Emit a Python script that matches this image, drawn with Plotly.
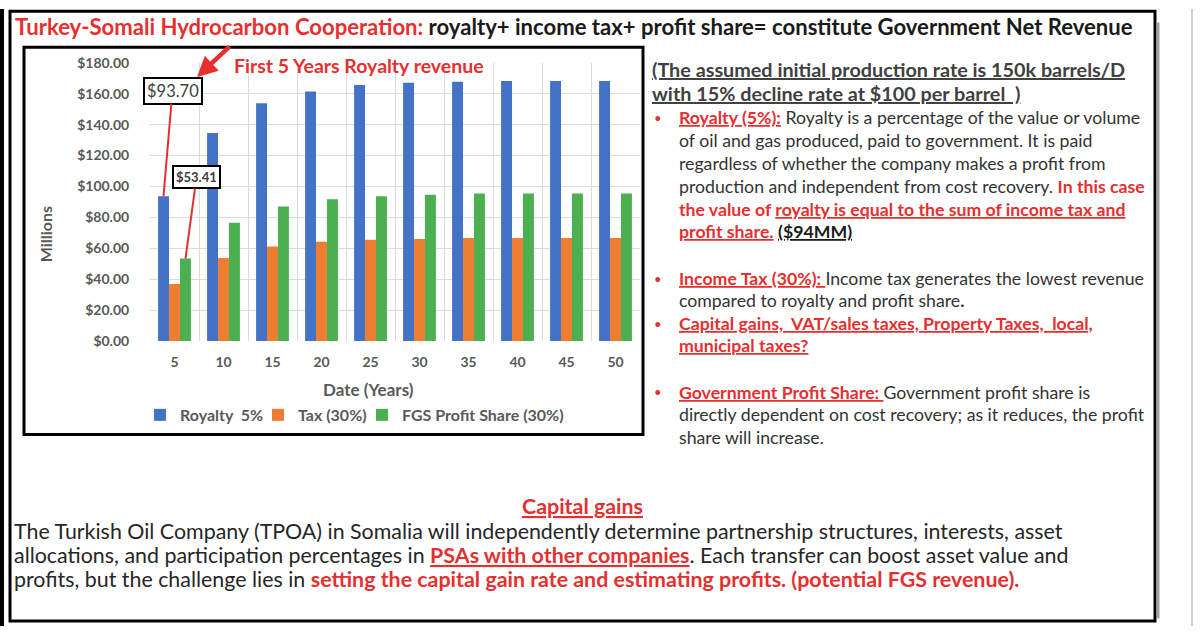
import plotly.graph_objects as go

# ---------------- data ----------------
years = [5, 10, 15, 20, 25, 30, 35, 40, 45, 50]
royalty = [93.70, 134.6, 153.8, 161.5, 165.6, 167.1, 167.7, 168.2, 168.2, 168.2]
tax = [36.9, 53.7, 61.2, 64.2, 65.5, 66.1, 66.6, 66.6, 66.6, 66.6]
profit_share = [53.41, 76.6, 87.0, 91.7, 93.7, 94.7, 95.4, 95.4, 95.4, 95.4]
series_names = ["Royalty  5%", "Tax (30%)", "FGS Profit Share (30%)"]
y_ticks = [0, 20, 40, 60, 80, 100, 120, 140, 160, 180]

W, H = 1200, 634
FONT = "Lato"
RED = "#e5302f"
GRAY = "#595959"
DARK = "#333333"
BLUE, ORANGE, GREEN = "#4472c4", "#ed7d31", "#4caf50"
VS = 0.975  # vertical calibration of the capture


def Y(y):
    return (y - 7.8) / VS


def px(x, y):
    return x / W, 1 - Y(y) / H


fig = go.Figure()
for name, vals, col, lg in zip(series_names, [royalty, tax, profit_share],
                               [BLUE, ORANGE, GREEN], ["legend", "legend2", "legend3"]):
    fig.add_trace(go.Bar(x=years, y=vals, name=name, marker_color=col,
                         marker_line_width=0, legend=lg, showlegend=True))

annotations = []


def txt(x, y, s, size, color=DARK, anchor="left", weight="normal"):
    ax_, ay_ = px(x, y)
    annotations.append(dict(x=ax_, y=ay_, xref="paper", yref="paper", text=s,
                            showarrow=False, xanchor=anchor, yanchor="middle",
                            font=dict(family=FONT, size=size, color=color, weight=weight)))


def red(s, u=True):
    inner = f"<b>{s}</b>"
    if u:
        inner = f"<u>{inner}</u>"
    return f'<span style="color:{RED}">{inner}</span>'


# title
txt(13, 25, red("Turkey-Somali Hydrocarbon Cooperation:", u=False)
    + "<b> royalty+ income tax+ profit share= constitute Government Net Revenue</b>",
    22.1, color="#1a1a1a")

# chart texts
txt(232, 64, "<b>First 5 Years Royalty revenue</b>", 19.5, color=RED)
mx, my = px(45, 233.5)
annotations.append(dict(x=mx, y=my, xref="paper", yref="paper", xanchor="center",
                        yanchor="middle", text="<b>Millions</b>", textangle=-90,
                        showarrow=False, font=dict(family=FONT, size=16, color=GRAY)))
txt(368, 389, "<b>Date (Years)</b>", 17, color=GRAY, anchor="center")

# value callouts linked to bars
annotations.append(dict(x=years[0], y=royalty[0], xref="x", yref="y", xshift=-11,
                        text="$93.70", showarrow=True, arrowhead=0, arrowwidth=2,
                        arrowcolor=RED, ax=9, ay=-103 / VS, bgcolor="white",
                        bordercolor="black", borderwidth=2, borderpad=2,
                        font=dict(family=FONT, size=16.5, color="#404040")))
annotations.append(dict(x=years[0], y=profit_share[0], xref="x", yref="y", xshift=11,
                        text="<b>$53.41</b>", showarrow=True, arrowhead=0, arrowwidth=2,
                        arrowcolor=RED, ax=11, ay=-79 / VS, bgcolor="white",
                        bordercolor="black", borderwidth=2, borderpad=2,
                        font=dict(family=FONT, size=13, color="#404040")))
# big red pointer arrow
tx, ty = px(197, 76)
annotations.append(dict(x=tx, y=ty, xref="paper", yref="paper", text="",
                        showarrow=True, arrowhead=2, arrowsize=0.9, arrowwidth=4.5,
                        arrowcolor=RED, ax=34, ay=-31 / VS))

# right-hand text
HS = 19.8
BS_ = 17.7
txt(650, 68, "<u><b>(The assumed initial production rate is 150k barrels/D</b></u>", HS, color="#404040")
txt(650, 92, "<u><b>with 15% decline rate at $100 per barrel\u00a0 )</b></u>", HS, color="#404040")
bul = f'<span style="color:{RED}">•</span>'
for yb in [117, 278, 323, 392]:
    txt(652, yb, bul, 13)
XT = 677
txt(XT, 117, red("Royalty (5%):") + " Royalty is a percentage of the value or volume", BS_)
txt(XT, 140, "of oil and gas produced, paid to government. It is paid", BS_)
txt(XT, 163, "regardless of whether the company makes a profit from", BS_)
txt(XT, 186, "production and independent from cost recovery. " + red("In this case", u=False), BS_)
txt(XT, 209, red("the value of ", u=False) + red("royalty is equal to the sum of income tax and"), BS_)
txt(XT, 231, red("profit share.") + " <u><b>($94MM)</b></u>", BS_, color="#1a1a1a")
txt(XT, 278, red("Income Tax (30%): ") + "Income tax generates the lowest revenue", BS_)
txt(XT, 300, "compared to royalty and profit share<b>.</b>", BS_)
txt(XT, 323, red("Capital gains,\u00a0 VAT/sales taxes, Property Taxes,\u00a0 local,"), BS_)
txt(XT, 345, red("municipal taxes?"), BS_)
txt(XT, 392, red("Government Profit Share: ") + "Government profit share is", BS_)
txt(XT, 414, "directly dependent on cost recovery; as it reduces, the profit", BS_)
txt(XT, 437, "share will increase.", BS_)

# bottom text
BS = 21.4
txt(582, 506, red("Capital gains"), BS, anchor="center")
txt(12, 531, "The Turkish Oil Company (TPOA) in Somalia will independently determine partnership structures, interests, asset", BS, color="#262626")
txt(12, 555, "allocations, and participation percentages in " + red("PSAs with other companies")
    + ". Each transfer can boost asset value and", BS, color="#262626")
txt(12, 579, "profits, but the challenge lies in "
    + red("setting the capital gain rate and estimating profits. (potential FGS revenue).", u=False),
    BS, color="#262626")

# frames
shapes = []


def rect(x0, y0, x1, y1, w=3, color="black"):
    a0, b0 = px(x0, y0)
    a1, b1 = px(x1, y1)
    shapes.append(dict(type="rect", xref="paper", yref="paper", x0=a0, y0=b1, x1=a1, y1=b0,
                       line=dict(color=color, width=w), fillcolor="rgba(0,0,0,0)"))


def vline(x, y0, y1, w=2, color="black"):
    a = x / W
    shapes.append(dict(type="line", xref="paper", yref="paper", x0=a, x1=a,
                       y0=1 - y0 / H, y1=1 - y1 / H, line=dict(color=color, width=w)))


rect(10, 10, 1155, 621, w=3)
vline(2, 0, 634, w=4)
vline(1158, 14, 626, w=3, color="#a0a0a0")
vline(1192, 0, 634, w=2, color="#cfcfcf")
rect(24, 46, 643, 434, w=3)

legend_common = dict(orientation="h", yanchor="middle", bgcolor="rgba(0,0,0,0)",
                     font=dict(family=FONT, size=16, color=GRAY, weight="bold"),
                     itemwidth=30, tracegroupgap=0)
ly = 1 - Y(414.5) / H

fig.update_layout(
    width=W, height=H, margin=dict(l=0, r=0, t=0, b=0),
    paper_bgcolor="white", plot_bgcolor="white",
    barmode="group", bargap=0.33, bargroupgap=0, showlegend=True,
    font=dict(family=FONT),
    xaxis=dict(domain=[150 / W, 640 / W], range=[2.5, 52.5], tickmode="array",
               tickvals=years, showgrid=False, zeroline=False, showline=False,
               ticks="outside", ticklen=8, tickcolor="rgba(0,0,0,0)",
               tickfont=dict(family=FONT, size=14, color=GRAY, weight="bold"),
               minor=dict(tick0=2.5, dtick=5, showgrid=True, gridcolor="#dcdcdc",
                          gridwidth=1, ticks="")),
    yaxis=dict(domain=[1 - Y(340.5) / H, 1 - Y(61.7) / H], range=[0, 180], tickmode="array",
               tickvals=y_ticks, tickformat="$,.2f", showgrid=True, gridcolor="#dcdcdc",
               gridwidth=1, zeroline=False, showline=False,
               ticks="outside", ticklen=17, tickcolor="rgba(0,0,0,0)",
               tickfont=dict(family=FONT, size=14, color=GRAY, weight="bold")),
    legend=dict(x=140 / W, y=ly, **legend_common),
    legend2=dict(x=258 / W, y=ly, **legend_common),
    legend3=dict(x=362 / W, y=ly, **legend_common),
    annotations=annotations, shapes=shapes,
)

fig.write_html("out.html")
